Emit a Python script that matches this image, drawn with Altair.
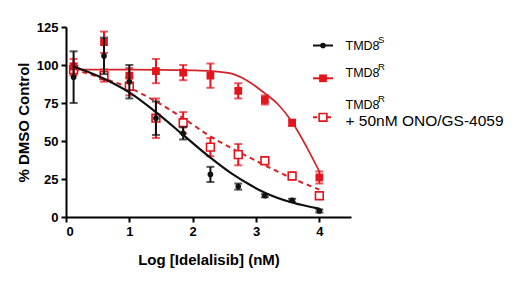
import altair as alt
import pandas as pd

# ---- data ----
log_conc = [0.12, 0.6, 1.0, 1.42, 1.85, 2.28, 2.72, 3.14, 3.57, 4.0]

s_mean = [92, 106, 89, 65, 55, 28, 20, 14, 11, 4]
s_err = [17, 12, 11, 11, 4, 5, 2, 1, 1, 1]

r_mean = [99, 115, 93, 96, 95, 93, 83, 77, 62, 26]
r_err = [5, 7, 5, 8, 5, 8, 5, 3, 2, 4]

o_mean = [97, 93, 86, 65, 62, 46, 41, 37, 27, 14]
o_err = [4, 4, 6, 13, 7, 6, 7, 1, 1, 2]

# fitted curves
s_fit_x = [0.12, 0.6, 1.0, 1.42, 1.85, 2.28, 2.6, 2.91, 3.14, 3.57, 4.0]
s_fit_y = [99, 91, 82, 69, 54, 39, 29, 21, 16, 9.5, 5.5]

r_fit_x = [0.12, 1.0, 2.0, 2.3, 2.6, 2.85, 3.12, 3.35, 3.57, 3.8, 4.0]
r_fit_y = [97, 97, 96.5, 96, 94.5, 90, 82, 74, 62.5, 46, 30]

o_fit_x = [0.12, 0.6, 1.0, 1.42, 1.85, 2.28, 2.72, 3.14, 3.57, 4.0]
o_fit_y = [97, 91, 85, 76, 65, 53, 43, 34, 25.5, 18]

FONT = "Liberation Sans"
BLACK = "#111111"
RED = "#e3141c"
RED_LINE = "#d3232a"

x_axis = alt.Axis(values=[0, 1, 2, 3, 4], title="Log [Idelalisib] (nM)", grid=False,
                  domainColor="black", domainWidth=2, tickColor="black", tickWidth=2,
                  tickSize=5, labelFont=FONT, labelFontSize=13, labelFontWeight="bold",
                  labelColor="black", labelPadding=3, titleFont=FONT, titleFontSize=15,
                  titleFontWeight="bold", titleColor="black", titlePadding=14)
y_axis = alt.Axis(values=[0, 25, 50, 75, 100, 125], title="% DMSO Control", grid=False,
                  domainColor="black", domainWidth=2, tickColor="black", tickWidth=2,
                  tickSize=5, labelFont=FONT, labelFontSize=13, labelFontWeight="bold",
                  labelColor="black", labelPadding=3, titleFont=FONT, titleFontSize=15,
                  titleFontWeight="bold", titleColor="black", titlePadding=5)

xs = alt.Scale(domain=[0, 4.5], nice=False)
ys = alt.Scale(domain=[0, 125], nice=False)


def X(field="x"):
    return alt.X(f"{field}:Q", scale=xs, axis=x_axis)


def Y(field="y"):
    return alt.Y(f"{field}:Q", scale=ys, axis=y_axis)


def series_layers(mean, err, color, marker):
    df = pd.DataFrame({"x": log_conc, "y": mean, "e": err})
    base = alt.Chart(df).transform_calculate(lo="datum.y - datum.e", hi="datum.y + datum.e")
    bar = base.mark_rule(color=color, strokeWidth=2).encode(x=X(), y=Y("lo"), y2="hi:Q")
    cap_lo = base.mark_tick(color=color, orient="horizontal", size=8, thickness=2).encode(x=X(), y=Y("lo"))
    cap_hi = base.mark_tick(color=color, orient="horizontal", size=8, thickness=2).encode(x=X(), y=Y("hi"))
    pts = base.mark_point(**marker).encode(x=X(), y=Y())
    return [bar, cap_lo, cap_hi, pts]


def curve(xv, yv, color, **kw):
    df = pd.DataFrame({"x": xv, "y": yv})
    return alt.Chart(df).mark_line(color=color, interpolate="monotone", **kw).encode(x=X(), y=Y())


one = alt.Data(values=[{}])


def lrule(x1, x2, y, color, **kw):
    return alt.Chart(one).mark_rule(color=color, **kw).encode(
        x=alt.value(x1), x2=alt.value(x2), y=alt.value(y))


def lpoint(x, y, **kw):
    return alt.Chart(one).mark_point(**kw).encode(x=alt.value(x), y=alt.value(y))


def ltext(x, y, txt, size):
    return alt.Chart(one).mark_text(align="left", baseline="middle", font=FONT,
                                    fontSize=size, color="black").encode(
        x=alt.value(x), y=alt.value(y), text=alt.value(txt))


layers = []
layers.append(curve(o_fit_x, o_fit_y, RED_LINE, strokeWidth=2, strokeDash=[5, 4]))
layers.append(curve(r_fit_x, r_fit_y, RED_LINE, strokeWidth=1.7))
layers += series_layers(o_mean, o_err, RED, dict(shape="square", filled=False, size=60,
                                                 strokeWidth=1.6, color=RED, opacity=1, fill="white"))
layers += series_layers(r_mean, r_err, RED, dict(shape="square", filled=True, size=60,
                                                 color=RED, opacity=1))
layers.append(curve(s_fit_x, s_fit_y, BLACK, strokeWidth=2.2))
layers += series_layers(s_mean, s_err, BLACK, dict(shape="circle", filled=True, size=32,
                                                   color=BLACK, opacity=1))

# manual legend
layers += [
    lrule(247, 267, 18.5, BLACK, strokeWidth=2),
    lpoint(257, 18.5, shape="circle", filled=True, size=32, color=BLACK, opacity=1),
    ltext(279.5, 19, "TMD8", 12.5),
    ltext(312, 13, "S", 9.5),
    lrule(247, 267, 51.3, RED, strokeWidth=2),
    lpoint(257, 51.3, shape="square", filled=True, size=60, color=RED, opacity=1),
    ltext(279.5, 45.7, "TMD8", 12.5),
    ltext(312, 39.7, "R", 9.5),
    lrule(247, 267, 90.3, RED, strokeWidth=2, strokeDash=[4, 3]),
    lpoint(257, 90.3, shape="square", filled=False, fill="white", size=60, strokeWidth=1.6,
           color=RED, opacity=1),
    ltext(279.5, 78, "TMD8", 12.5),
    ltext(312, 72, "R", 9.5),
    ltext(279.5, 94, "+ 50nM ONO/GS-4059", 15.5),
]

chart = alt.layer(*layers).properties(
    width=285, height=190,
    autosize=alt.AutoSizeParams(type="none"),
    padding={"left": 66, "top": 27, "right": 169, "bottom": 66},
    background="white",
).configure_view(stroke=None)

chart.save("out.html", embed_options={"renderer": "svg", "actions": False})
